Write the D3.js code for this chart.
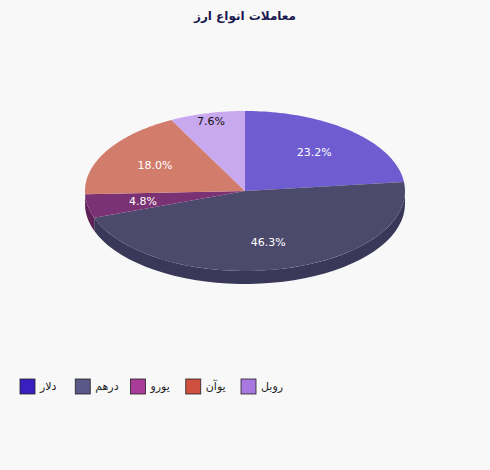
<!DOCTYPE html>
<html>
<head>
<meta charset="UTF-8">
<script src="https://cdn.jsdelivr.net/npm/d3@7"></script>
<style>body{margin:0;background:#f8f8f8;font-family:"DejaVu Sans",sans-serif}</style>
</head>
<body>
<svg id="chart" width="490" height="470"></svg>
<script>
const categories = ["دلار", "درهم", "یورو", "یوآن", "روبل"];
const values = [23.2, 46.3, 4.8, 18.0, 7.6];
const topColors = ["#6e5cd0", "#4c4a6c", "#7a3274", "#d27c6c", "#c8a8ee"];
const sideColors = ["#4a3aa0", "#3a3858", "#5e2258", "#a85a4c", "#a088c8"];
const legendColors = ["#3a1fc0", "#5a5888", "#a83c98", "#d05040", "#a878e0"];

const svg = d3.select("#chart");
const cx = 245, cy = 191, rx = 160, ry = 80, depth = 13;

svg.append("text").attr("x", 245).attr("y", 20).attr("text-anchor", "middle")
  .attr("font-size", 12).attr("font-weight", "bold").attr("fill", "#1a1a50").text("معاملات انواع ارز");

const pie = d3.pie().sort(null).value(d => d);
const arcs = pie(values);
const pt = (a, dy = 0) => [cx + rx * Math.sin(a), cy - ry * Math.cos(a) + dy];

// side walls (visible front half: angles between PI/2 and 3PI/2)
const g = svg.append("g");
arcs.forEach((d, i) => {
  const a0 = Math.max(d.startAngle, Math.PI / 2), a1 = Math.min(d.endAngle, 3 * Math.PI / 2);
  if (a1 <= a0) return;
  const p = d3.path();
  const n = 40;
  for (let k = 0; k <= n; k++) {
    const [x, y] = pt(a0 + (a1 - a0) * k / n);
    k ? p.lineTo(x, y) : p.moveTo(x, y);
  }
  for (let k = n; k >= 0; k--) {
    const [x, y] = pt(a0 + (a1 - a0) * k / n, depth);
    p.lineTo(x, y);
  }
  p.closePath();
  g.append("path").attr("d", p.toString()).attr("fill", sideColors[i]);
});

// top faces
arcs.forEach((d, i) => {
  const p = d3.path();
  p.moveTo(cx, cy);
  const n = 60;
  for (let k = 0; k <= n; k++) {
    const [x, y] = pt(d.startAngle + (d.endAngle - d.startAngle) * k / n);
    p.lineTo(x, y);
  }
  p.closePath();
  g.append("path").attr("d", p.toString()).attr("fill", topColors[i]);
});

// labels
arcs.forEach((d, i) => {
  const a = (d.startAngle + d.endAngle) / 2;
  const f = i === 4 ? 0.9 : 0.65;
  const x = cx + rx * f * Math.sin(a), y = cy - ry * f * Math.cos(a);
  g.append("text").attr("x", x).attr("y", y + 4).attr("text-anchor", "middle")
    .attr("font-size", 11).attr("fill", i === 4 ? "#111" : "#fff")
    .text(d.data.toFixed(1) + "%");
});

// legend
const legX = d3.scalePoint().domain(categories).range([20, 241]);
const leg = svg.append("g").selectAll("g").data(categories).join("g")
  .attr("transform", d => `translate(${legX(d)},379)`);
leg.append("rect").attr("width", 15).attr("height", 15)
  .attr("fill", (d, i) => legendColors[i]).attr("stroke", "#222").attr("stroke-width", 0.8);
leg.append("text").attr("x", 20).attr("y", 11).attr("font-size", 11).attr("fill", "#222").text(d => d);
</script>
</body>
</html>
